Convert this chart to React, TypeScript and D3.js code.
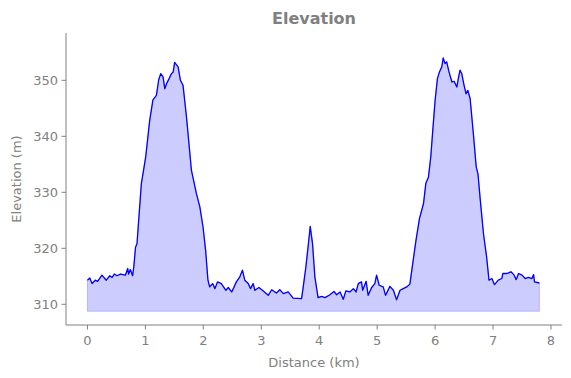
import React from "react";
import * as d3 from "d3";

const distances = [
  0.0, 0.04, 0.08, 0.135, 0.175, 0.25, 0.325, 0.385, 0.425, 0.465, 0.51, 0.57, 0.655, 0.695, 0.71, 0.74, 0.78,
  0.8, 0.83, 0.855, 0.93, 1.005, 1.075, 1.13, 1.19, 1.23, 1.265,
  1.305, 1.335, 1.365, 1.41, 1.45, 1.48, 1.505, 1.565, 1.605, 1.65, 1.71, 1.795, 1.88, 1.94, 1.995, 2.04, 2.08,
  2.11, 2.16, 2.2, 2.245, 2.31, 2.39, 2.43, 2.49, 2.57, 2.63, 2.675, 2.715, 2.775, 2.815, 2.86, 2.89, 2.96, 3.03,
  3.12, 3.18, 3.26, 3.32, 3.38, 3.465, 3.55, 3.695, 3.72, 3.77, 3.81, 3.845, 3.885, 3.925, 3.98, 4.04, 4.1, 4.185,
  4.255, 4.3, 4.36, 4.415, 4.46, 4.53, 4.59, 4.635, 4.675, 4.73, 4.75, 4.81, 4.845, 4.905, 4.96, 4.99, 5.035,
  5.105, 5.145, 5.22, 5.28, 5.335, 5.395, 5.45, 5.51, 5.565, 5.61, 5.67, 5.73, 5.8, 5.84, 5.885, 5.925, 5.96, 6.0,
  6.04, 6.075, 6.115, 6.14, 6.17, 6.2, 6.24, 6.29, 6.33, 6.375, 6.4, 6.43, 6.46, 6.5, 6.535, 6.565, 6.605, 6.66,
  6.71, 6.74, 6.78, 6.835, 6.89, 6.93, 6.98, 7.025, 7.09, 7.15, 7.17, 7.24, 7.31, 7.365, 7.4, 7.44, 7.5, 7.555,
  7.61, 7.67, 7.7, 7.715, 7.8,
];

const elevations = [
  314.3, 314.7, 313.7, 314.3, 314.1, 315.2, 314.3, 315.1, 314.8, 315.4, 315.1, 315.4, 315.2, 316.4, 315.4, 316.2,
  315.1, 316.7, 320.2, 320.8, 331.5, 336.3, 342.9, 346.5, 347.3,
  350.1, 351.2, 350.6, 348.5, 349.4, 350.3, 351.2, 351.5, 353.2, 352.4, 350.0, 349.1, 343.4, 333.9, 329.8, 327.4,
  323.8, 319.6, 314.3, 313.1, 313.7, 312.8, 314.0, 313.7, 312.5, 313.0, 312.2, 314.0, 314.9, 316.1, 314.3, 313.7,
  312.8, 313.7, 312.5, 313.0, 312.4, 311.6, 312.6, 312.0, 312.6, 311.9, 312.2, 311.1, 311.0, 312.8, 316.7, 320.5,
  323.9, 320.8, 314.9, 311.2, 311.4, 311.2, 311.7, 312.3, 311.7, 312.2, 310.9, 312.4, 312.2, 312.8, 312.2, 313.7,
  314.0, 312.5, 314.1, 311.6, 313.0, 313.7, 315.2, 313.4, 313.1, 311.6, 313.2, 312.5, 310.8, 312.5, 312.8, 313.1,
  313.6, 317.0, 321.4, 325.3, 328.0, 331.6, 332.7, 336.3, 341.1, 346.4, 350.3, 351.5, 352.4, 354.0, 353.0, 353.3,
  351.5, 349.7, 349.8, 348.8, 350.3, 351.8, 351.2, 349.1, 347.6, 348.2, 346.7, 340.5, 334.5, 333.3, 328.6, 322.6,
  318.4, 314.3, 314.6, 313.5, 314.3, 314.6, 315.5, 315.5, 315.8, 315.2, 314.4, 315.5, 315.2, 314.6, 314.8, 314.6,
  315.3, 314.0, 313.8,
];

const xTicks = [0, 1, 2, 3, 4, 5, 6, 7, 8];
const yTicks = [310, 320, 330, 340, 350];
const fillBase = 308.75;

const W = 571;
const H = 378;
const left = 66;
const right = 562;
const top = 33;
const bottom = 325;
const gray = "#808080";
const font = "DejaVu Sans, sans-serif";

export default function App() {
  const x = d3.scaleLinear().domain([-0.37, 8.19]).range([left, right]);
  const y = d3.scaleLinear().domain([306.3, 358.45]).range([bottom, top]);
  const pts = distances.map((d, i) => [d, elevations[i]] as [number, number]);
  const area = d3
    .area<[number, number]>()
    .x((d) => x(d[0]))
    .y0(() => y(fillBase))
    .y1((d) => y(d[1]));
  const line = d3
    .line<[number, number]>()
    .x((d) => x(d[0]))
    .y((d) => y(d[1]));

  return (
    <svg
      width={W}
      height={H}
      style={{ position: "absolute", left: 0, top: 0, background: "#fff" }}
      fontFamily={font}
    >
      <path d={area(pts) || ""} fill="#ccccff" stroke="rgba(0,0,255,0.2)" strokeWidth={1} />
      <path d={line(pts) || ""} fill="none" stroke="#0000ff" strokeWidth={1.3} strokeLinejoin="round" />
      <line x1={left} x2={left} y1={top} y2={bottom} stroke={gray} strokeWidth={1} />
      <line x1={left} x2={right} y1={bottom} y2={bottom} stroke={gray} strokeWidth={1} />
      {xTicks.map((t) => (
        <g key={"x" + t}>
          <line x1={x(t)} x2={x(t)} y1={bottom} y2={bottom + 4.5} stroke={gray} strokeWidth={1} />
          <text x={x(t)} y={bottom + 20} textAnchor="middle" fontSize={13} fill={gray}>
            {t}
          </text>
        </g>
      ))}
      {yTicks.map((t) => (
        <g key={"y" + t}>
          <line x1={left - 4.5} x2={left} y1={y(t)} y2={y(t)} stroke={gray} strokeWidth={1} />
          <text x={left - 8} y={y(t) + 4.5} textAnchor="end" fontSize={13} fill={gray}>
            {t}
          </text>
        </g>
      ))}
      <text x={(left + right) / 2} y={367} textAnchor="middle" fontSize={13} fill={gray}>
        Distance (km)
      </text>
      <text
        transform={`translate(21,${(top + bottom) / 2}) rotate(-90)`}
        textAnchor="middle"
        fontSize={13}
        fill={gray}
      >
        Elevation (m)
      </text>
      <text x={(left + right) / 2} y={24} textAnchor="middle" fontSize={16} fontWeight="bold" fill={gray}>
        Elevation
      </text>
    </svg>
  );
}
